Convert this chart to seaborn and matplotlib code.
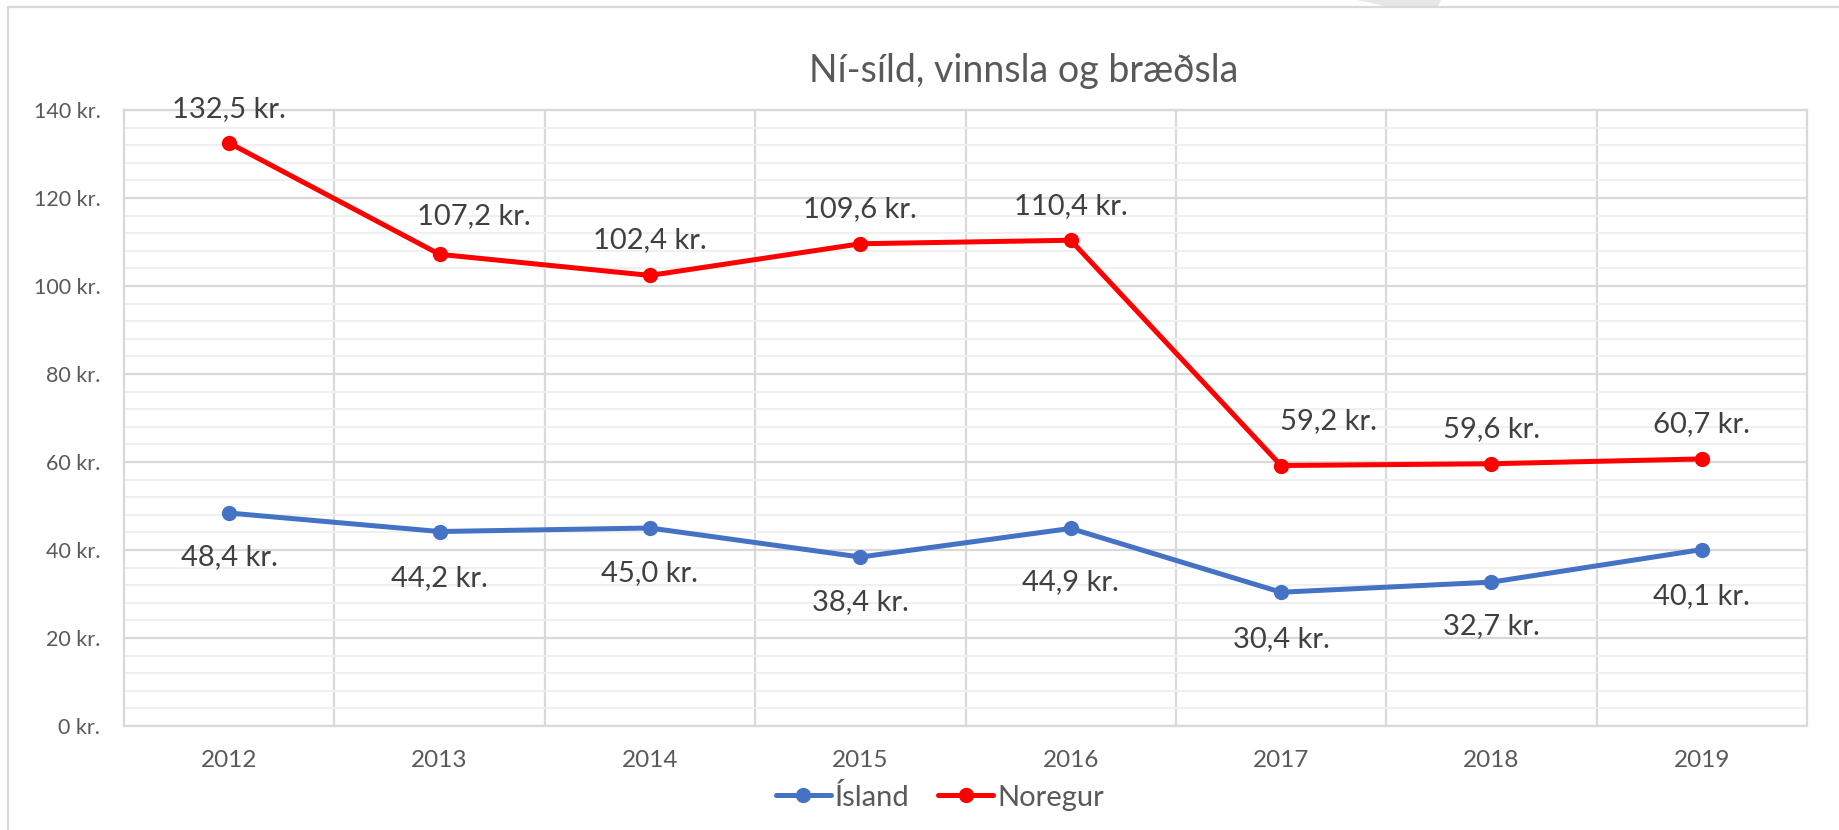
import matplotlib
matplotlib.use("Agg")
import matplotlib.pyplot as plt
import seaborn as sns
import pandas as pd
from matplotlib.lines import Line2D
from matplotlib.patches import Polygon
from matplotlib.ticker import MultipleLocator, FuncFormatter

years = [2012, 2013, 2014, 2015, 2016, 2017, 2018, 2019]
island = [48.4, 44.2, 45.0, 38.4, 44.9, 30.4, 32.7, 40.1]
noregur = [132.5, 107.2, 102.4, 109.6, 110.4, 59.2, 59.6, 60.7]
series_names = ["Ísland", "Noregur"]
title = "Ní-síld, vinnsla og bræðsla"

# label placement offsets (points), style only
noregur_dx = [0, 25, 0, 0, 0, 34, 0, 0]
noregur_dy = [19, 21.5, 20, 19, 19, 26, 19.5, 19.5]
island_dy = [-37.5, -39, -38, -38, -44.5, -39.5, -37.5, -39.5]

sns.set_theme(style="white")
plt.rcParams['font.family'] = ['Lato', 'DejaVu Sans']

df = pd.DataFrame({
    "year": years * 2,
    "value": island + noregur,
    "series": [series_names[0]] * len(years) + [series_names[1]] * len(years),
})

colors = {"Ísland": "#4472C4", "Noregur": "#FF0000"}

fig = plt.figure(figsize=(18.4, 8.3), dpi=100)
ax = fig.add_axes([124/1840, 1 - 726/830, (1807-124)/1840, (726-110)/830])

sns.lineplot(data=df, x="year", y="value", hue="series", palette=colors,
             marker="o", markersize=11, markeredgewidth=0, linewidth=3.6,
             ax=ax, legend=False, zorder=5)

ax.set_xlim(2011.5, 2019.5)
ax.set_ylim(0, 140)
ax.yaxis.set_major_locator(MultipleLocator(20))
ax.yaxis.set_minor_locator(MultipleLocator(4))
ax.set_xticks(years)
ax.set_xticks([y + 0.5 for y in years[:-1]], minor=True)
ax.yaxis.set_major_formatter(FuncFormatter(lambda v, p: f"{int(v)} kr."))
ax.grid(which="major", axis="y", color="#d9d9d9", linewidth=1.6)
ax.grid(which="minor", axis="y", color="#f0f0f0", linewidth=1.4)
ax.grid(which="minor", axis="x", color="#d9d9d9", linewidth=1.6)
ax.grid(which="major", axis="x", visible=False)
ax.set_axisbelow(True)
for s in ax.spines.values():
    s.set_color("#d9d9d9")
    s.set_linewidth(1.6)
ax.tick_params(which="both", length=0)
ax.tick_params(axis="y", labelsize=15.5, labelcolor="#595959", pad=17)
ax.tick_params(axis="x", labelsize=17.5, labelcolor="#595959", pad=17)
ax.set_xlabel("")
ax.set_ylabel("")

def fmt(v):
    return f"{v:.1f}".replace(".", ",") + " kr."

for x, v, dx, dy in zip(years, noregur, noregur_dx, noregur_dy):
    ax.annotate(fmt(v), (x, v), xytext=(dx, dy), textcoords="offset points",
                ha="center", va="baseline", fontsize=21, color="#404040")
for x, v, dy in zip(years, island, island_dy):
    ax.annotate(fmt(v), (x, v), xytext=(0, dy), textcoords="offset points",
                ha="center", va="baseline", fontsize=21, color="#404040")

fig.text(1024/1840, 1 - 82/830, title, ha="center", va="baseline",
         fontsize=27, color="#595959")

handles = [Line2D([0], [0], color=colors[n], linewidth=3.6, marker="o",
                  markersize=11, markeredgewidth=0) for n in series_names]
fig.legend(handles, series_names, loc="center", bbox_to_anchor=(940/1840, 1 - 797/830),
           ncol=2, frameon=False, fontsize=21, labelcolor="#595959",
           handlelength=1.9, handletextpad=0.15, columnspacing=0.95)

# chart border
fig.add_artist(Line2D([8/1840, 8/1840], [0, 1 - 7/830], transform=fig.transFigure,
                      color="#d9d9d9", linewidth=1.6))
fig.add_artist(Line2D([8/1840, 1], [1 - 7/830, 1 - 7/830], transform=fig.transFigure,
                      color="#d9d9d9", linewidth=1.6))
fig.add_artist(Polygon([[1357/1840, 1], [1441/1840, 1], [1438/1840, 1 - 6/830], [1385/1840, 1 - 6/830]],
                       closed=True, transform=fig.transFigure, facecolor="#e6e6e6",
                       edgecolor="none"))

fig.savefig("out.png", dpi=100, facecolor="white")
